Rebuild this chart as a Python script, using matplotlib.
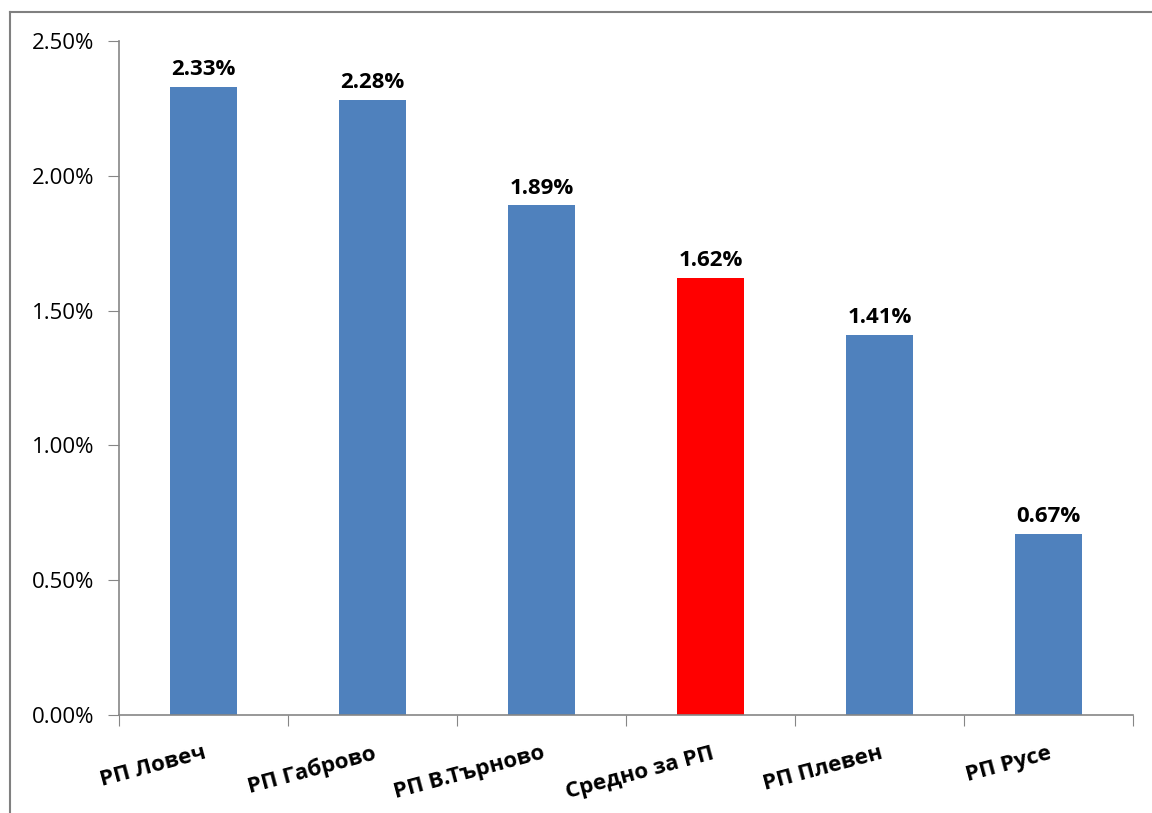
import matplotlib.pyplot as plt
from matplotlib.lines import Line2D
from matplotlib.ticker import FuncFormatter, MultipleLocator

plt.rcParams['font.family'] = ['Open Sans', 'DejaVu Sans']

categories = ['РП Ловеч', 'РП Габрово', 'РП В.Търново', 'Средно за РП', 'РП Плевен', 'РП Русе']
values = [2.33, 2.28, 1.89, 1.62, 1.41, 0.67]
colors = ['#4F81BD', '#4F81BD', '#4F81BD', '#FF0000', '#4F81BD', '#4F81BD']

fig = plt.figure(figsize=(11.52, 8.13), dpi=100)
ax = fig.add_axes([0.1033, 0.1205, 0.8802, 0.8291])

x = list(range(len(categories)))
ax.bar(x, values, width=0.40, color=colors, zorder=2)

for xi, v in zip(x, values):
    ax.annotate(f'{v:.2f}%', (xi, v), xytext=(0, 5), textcoords='offset points',
                ha='center', va='bottom', fontsize=16, fontweight='bold')

ax.set_xlim(-0.5, len(categories) - 0.5)
ax.set_ylim(0, 2.5)
ax.yaxis.set_major_locator(MultipleLocator(0.5))
ax.yaxis.set_major_formatter(FuncFormatter(lambda v, p: f'{v:.2f}%'))

# category boundary ticks on x axis
ax.set_xticks([i - 0.5 for i in range(len(categories) + 1)])
ax.set_xticklabels([])
ax.set_xticks(x, minor=True)
ax.set_xticklabels(categories, minor=True, rotation=15, ha='right',
                   rotation_mode='anchor', fontsize=16, fontweight='bold')
ax.tick_params(axis='x', which='minor', length=0, pad=20)
ax.tick_params(axis='x', which='major', length=8, color='#868686', direction='out')
ax.tick_params(axis='y', length=8, color='#868686', labelsize=16, pad=10)

for s in ['top', 'right']:
    ax.spines[s].set_visible(False)
for s in ['left', 'bottom']:
    ax.spines[s].set_color('#868686')
    ax.spines[s].set_linewidth(1.2)

# outer chart frame
fig.add_artist(Line2D([10 / 1152, 10 / 1152], [0, 1 - 12 / 813], transform=fig.transFigure,
                      color='#808080', lw=1.5))
fig.add_artist(Line2D([10 / 1152, 1], [1 - 12 / 813, 1 - 12 / 813], transform=fig.transFigure,
                      color='#808080', lw=1.5))

fig.savefig('out.png', dpi=100)
